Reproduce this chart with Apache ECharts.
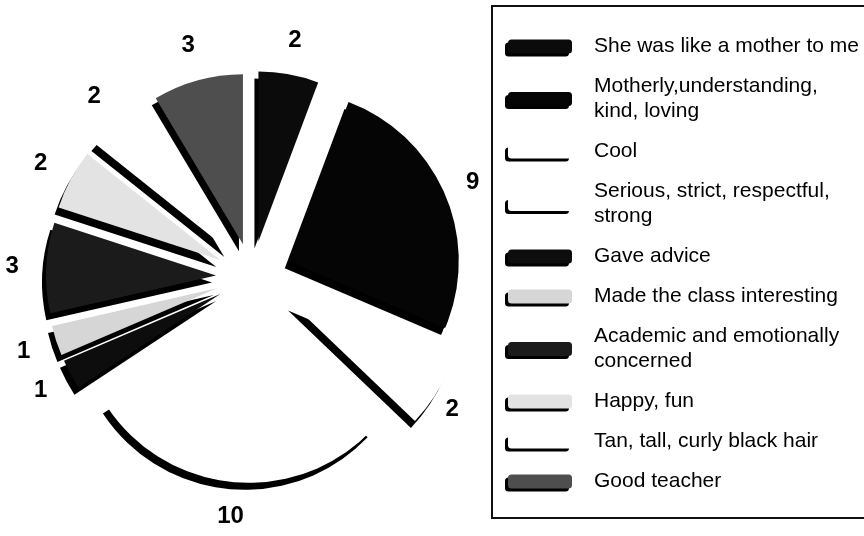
<!DOCTYPE html>
<html>
<head>
<meta charset="utf-8">
<script src="https://cdn.jsdelivr.net/npm/echarts@6/dist/echarts.min.js"></script>
<style>
  html, body { margin: 0; padding: 0; background: #fff; }
  #chart { width: 864px; height: 536px; }
</style>
</head>
<body>
<div id="chart"></div>
<script>
// ---- data ----
const categories = [
  'She was like a mother to me',
  'Motherly,understanding,\nkind, loving',
  'Cool',
  'Serious, strict, respectful,\nstrong',
  'Gave advice',
  'Made the class interesting',
  'Academic and emotionally\nconcerned',
  'Happy, fun',
  'Tan, tall, curly black hair',
  'Good teacher'
];
const counts = [2, 9, 2, 10, 1, 1, 3, 2, 2, 3];

// ---- styles (kept apart from data) ----
const fills = ['#0b0b0b', '#050505', '#ffffff', '#ffffff', '#0d0d0d', '#d6d6d6', '#1b1b1b', '#e3e3e3', '#ffffff', '#4e4e4e'];
const explode = [36, 40, 48, 36, 36, 36, 36, 36, 36, 34];
const FONT = '"Liberation Sans", Arial, Helvetica, sans-serif';
const CENTER = [252, 277];
const RADIUS = 170;
const TRANSPARENT = 'rgba(0,0,0,0)';

const sliceShadow = { shadowColor: '#000', shadowOffsetX: -4, shadowOffsetY: 7, shadowBlur: 0 };

// one series per slice so each slice can be pulled out by its own amount
const sliceSeries = categories.map((name, i) => ({
  type: 'pie',
  center: CENTER,
  radius: RADIUS,
  startAngle: 90,
  clockwise: true,
  selectedMode: 'single',
  selectedOffset: explode[i],
  silent: true,
  animation: false,
  emphasis: { disabled: true },
  label: { show: false },
  labelLine: { show: false },
  z: 2,
  data: categories.map((n, j) => ({
    name: n,
    value: counts[j],
    selected: j === i,
    itemStyle: j === i
      ? Object.assign({ color: fills[j], borderWidth: 0 }, sliceShadow)
      : { color: TRANSPARENT, borderWidth: 0 },
    select: j === i
      ? { itemStyle: Object.assign({ color: fills[j], borderWidth: 0 }, sliceShadow) }
      : { itemStyle: { color: TRANSPARENT, borderWidth: 0 } }
  }))
}));

// invisible ring that carries the value labels
const labelSeries = {
  type: 'pie',
  center: CENTER,
  radius: [224, 250],
  startAngle: 90,
  clockwise: true,
  silent: true,
  animation: false,
  emphasis: { disabled: true },
  itemStyle: { color: TRANSPARENT, borderWidth: 0 },
  label: {
    show: true,
    position: 'inside',
    formatter: '{c}',
    color: '#000',
    fontFamily: FONT,
    fontWeight: 'bold',
    fontSize: 24
  },
  labelLine: { show: false },
  z: 3,
  data: categories.map((n, j) => ({ name: n, value: counts[j] }))
};

const chart = echarts.init(document.getElementById('chart'), null, { renderer: 'canvas' });
chart.setOption({
  animation: false,
  backgroundColor: '#fff',
  legend: {
    orient: 'vertical',
    left: 492,
    top: 6,
    padding: [28, 24, 24, 16],
    borderColor: '#111',
    borderWidth: 2,
    itemWidth: 64,
    itemHeight: 14,
    itemGap: 15,
    selectedMode: false,
    textStyle: {
      fontFamily: FONT,
      fontSize: 21,
      lineHeight: 25,
      color: '#000',
      padding: [0, 0, 0, 17]
    },
    data: categories.map((n, i) => ({
      name: n,
      icon: 'roundRect',
      itemStyle: {
        color: fills[i],
        borderWidth: 0,
        shadowColor: '#000',
        shadowOffsetX: -3,
        shadowOffsetY: 3,
        shadowBlur: 0,
        opacity: 1
      }
    }))
  },
  series: sliceSeries.concat([labelSeries])
});
</script>
</body>
</html>
